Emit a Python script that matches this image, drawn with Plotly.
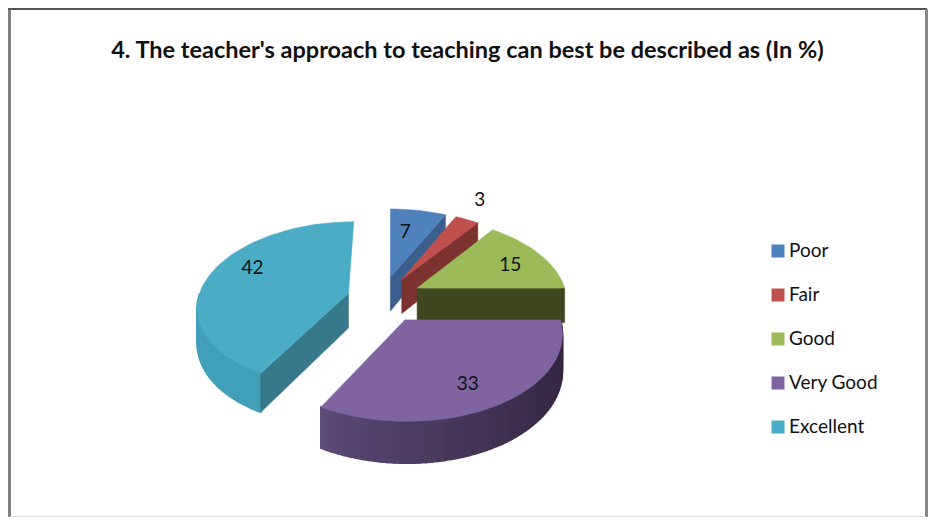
import numpy as np
import plotly.graph_objects as go

# ---- data ----
categories = ["Poor", "Fair", "Good", "Very Good", "Excellent"]
values = [7, 3, 15, 33, 42]
title_text = "4. The teacher's approach to teaching can best be described as (In %)"

# ---- styles ----
top_colors = ["#4F81BD", "#C0504D", "#9BBB59", "#8064A2", "#4BACC6"]
radial_colors = ["#3A5F8C", "#7B3230", "#3F4721", "#35253F", "#37788A"]
wall_light = ["#3A5F8C", "#7B3230", "#3F4721", "#5E4A78", "#41A0B8"]
wall_dark = ["#2F4D72", "#632826", "#333A1B", "#33243E", "#3A90A8"]
pulls = [0.27, 0.27, 0.27, 0.30, 0.23]
W, H = 928, 517
FONT = "Lato"

# ---- projection settings (pixels) ----
VX, VY = 392, 298      # vanishing axis / pie centre on the page
X0 = -0.07             # centre shift in radius units
RX, RY = 150, 82       # radii of the top face
DEPTH = 35             # wall height
KX, KY = 0.14, 0.13    # perspective strength


def project(X, Y, z=0.0):
    X = np.asarray(X, dtype=float)
    Y = np.asarray(Y, dtype=float)
    sx = 1.0 / (1.0 - KX * Y)
    sy = 1.0 / (1.0 - KY * Y)
    return VX + RX * (X + X0) * sx, VY + RY * Y * sy + z * DEPTH * sy


def polygon(px, py, color, lw=0.6):
    return go.Scatter(x=list(px), y=list(py), mode="lines", fill="toself", fillcolor=color,
                      line=dict(color=color, width=lw), hoverinfo="skip", showlegend=False)


def mix(c1, c2, t):
    a = [int(c1[i:i + 2], 16) for i in (1, 3, 5)]
    b = [int(c2[i:i + 2], 16) for i in (1, 3, 5)]
    return "rgb(%d,%d,%d)" % tuple(round(u + (v - u) * t) for u, v in zip(a, b))


total = sum(values)
edges = np.cumsum([0] + values) / total * 2 * np.pi
fig = go.Figure()
apex = {}
for i in [0, 1, 2, 4, 3]:  # back to front
    a0, a1 = edges[i], edges[i + 1]
    mid = (a0 + a1) / 2
    ex, ey = pulls[i] * np.sin(mid), -pulls[i] * np.cos(mid)
    th = np.linspace(a0, a1, max(int(np.degrees(a1 - a0) / 2), 4))
    rimX, rimY = ex + np.sin(th), ey - np.cos(th)

    # outer wall, shaded segment by segment
    vis = np.where(-np.cos(th) > -0.02)[0]
    for n in range(len(vis) - 1):
        j, k = vis[n], vis[n + 1]
        xa, ya = project(rimX[[j, k]], rimY[[j, k]], 0)
        xb, yb = project(rimX[[k, j]], rimY[[k, j]], 1)
        t = np.clip((th[j] - np.pi / 2) / np.radians(119), 0, 1) ** 1.5
        fig.add_trace(polygon(np.r_[xa, xb, xa[0]], np.r_[ya, yb, ya[0]],
                              mix(wall_dark[i], wall_light[i], t), lw=1.6))

    # radial wall facing the viewer
    for ang, sign in ((a0, -1), (a1, 1)):
        if sign * np.sin(ang) > 0.01:
            QX = np.array([ex, ex + np.sin(ang)])
            QY = np.array([ey, ey - np.cos(ang)])
            xa, ya = project(QX, QY, 0)
            xb, yb = project(QX[::-1], QY[::-1], 1)
            fig.add_trace(polygon(np.r_[xa, xb, xa[0]], np.r_[ya, yb, ya[0]], radial_colors[i]))

    # top face
    px, py = project(np.r_[ex, rimX, ex], np.r_[ey, rimY, ey], 0)
    fig.add_trace(polygon(px, py, top_colors[i]))
    apex[i] = (float(px[0]), float(py[0]))

# data labels, placed relative to the apex of their slice
label_offsets = [(15, -44), (78, -78), (93, -22), (63, 65), (-96, -24)]
fig.add_trace(go.Scatter(
    x=[apex[i][0] + label_offsets[i][0] for i in range(5)],
    y=[apex[i][1] + label_offsets[i][1] for i in range(5)],
    text=[str(v) for v in values], mode="text", textposition="middle center",
    textfont=dict(family=FONT, size=19, color="#111111"), hoverinfo="skip", showlegend=False))

# legend, drawn on the same pixel axes
LEG_X, LEG_TEXT_X, LEG_Y0, LEG_STEP, LEG_TEXT_DY = 778, 789, 251, 44, 1.5
legend_y = [LEG_Y0 + LEG_STEP * i for i in range(5)]
fig.add_trace(go.Scatter(
    x=[LEG_X] * 5, y=legend_y, mode="markers",
    marker=dict(symbol="square", size=13, color=top_colors), hoverinfo="skip", showlegend=False))
fig.add_trace(go.Scatter(
    x=[LEG_TEXT_X] * 5, y=[v + LEG_TEXT_DY for v in legend_y], mode="text", text=categories,
    textposition="middle right",
    textfont=dict(family=FONT, size=19, color="#111111"), hoverinfo="skip", showlegend=False))

axis = dict(visible=False, fixedrange=True, autorange=False)
fig.update_layout(
    width=W, height=H, margin=dict(l=0, r=0, t=0, b=0),
    paper_bgcolor="white", plot_bgcolor="white", showlegend=False,
    xaxis=dict(range=[0, W], **axis), yaxis=dict(range=[H, 0], **axis),
    title=dict(text="<b>%s</b>" % title_text, x=467.5 / W, xanchor="center", y=1 - 50 / H, yanchor="middle",
               font=dict(family=FONT, size=23.5, color="#111111")),
    shapes=[
        dict(type="line", xref="x", yref="y", x0=9.5, x1=9.5, y0=9, y1=517, line=dict(color="#808080", width=3)),
        dict(type="line", xref="x", yref="y", x0=8, x1=927, y0=9, y1=9, line=dict(color="#555555", width=2)),
        dict(type="line", xref="x", yref="y", x0=926.5, x1=926.5, y0=9, y1=517, line=dict(color="#888888", width=3)),
        dict(type="line", xref="x", yref="y", x0=10, x1=926, y0=516.5, y1=516.5, line=dict(color="#DDDDDD", width=1)),
    ],
)
fig.write_html("out.html", config={"displayModeBar": False},
               post_script="document.body.style.margin='0';document.body.style.overflow='hidden';")
